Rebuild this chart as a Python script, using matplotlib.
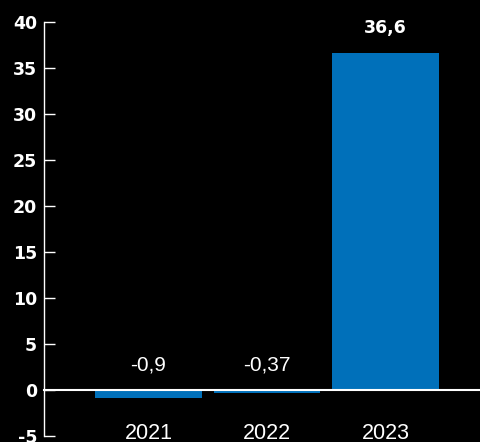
import matplotlib.pyplot as plt
import numpy as np

# dados
anos = ['2021', '2022', '2023']
valores = [-0.9, -0.37, 36.6]
rotulos = ['-0,9', '-0,37', '36,6']
yticks = [-5, 0, 5, 10, 15, 20, 25, 30, 35, 40]

cor_barra = '#0070ba'
plt.rcParams['font.family'] = ['Liberation Sans', 'DejaVu Sans']

fig = plt.figure(figsize=(4.81, 4.42), dpi=100, facecolor='black')
ax = fig.add_axes([44 / 481, 1 - 436 / 442, 1 - 44 / 481, (436 - 22) / 442])
ax.set_facecolor('black')

x = np.arange(len(anos))
ax.bar(x, valores, width=0.9, color=cor_barra, zorder=2)
ax.axhline(0, xmin=0, xmax=1.05, color='white', linewidth=1.5, zorder=3, clip_on=False)

ax.set_xlim(-0.882, 2.806)
ax.set_ylim(-5, 40)
ax.set_yticks(yticks)
ax.set_yticklabels([str(t) for t in yticks], fontsize=12.5, fontweight='bold',
                   color='white', family='DejaVu Sans')
ax.tick_params(axis='y', direction='in', length=8, width=1, color='white', pad=5)

ax.set_xticks(x)
ax.set_xticklabels(anos, fontsize=15.5, color='white')
ax.tick_params(axis='x', length=0, pad=-9.5)

for s in ['top', 'right', 'bottom']:
    ax.spines[s].set_visible(False)
ax.spines['left'].set_color('white')
ax.spines['left'].set_linewidth(1)

# rótulos de valor
for xi, v, r in zip(x, valores, rotulos):
    if v >= 0:
        ax.annotate(r, (xi, v), xytext=(0, 11.5), textcoords='offset points',
                    ha='center', va='bottom', fontsize=12.5, fontweight='bold',
                    color='white', family='DejaVu Sans')
    else:
        ax.annotate(r, (xi, 0), xytext=(0, 11.5), textcoords='offset points',
                    ha='center', va='bottom', fontsize=15, color='white')

plt.savefig('out.png', dpi=100, facecolor='black')
